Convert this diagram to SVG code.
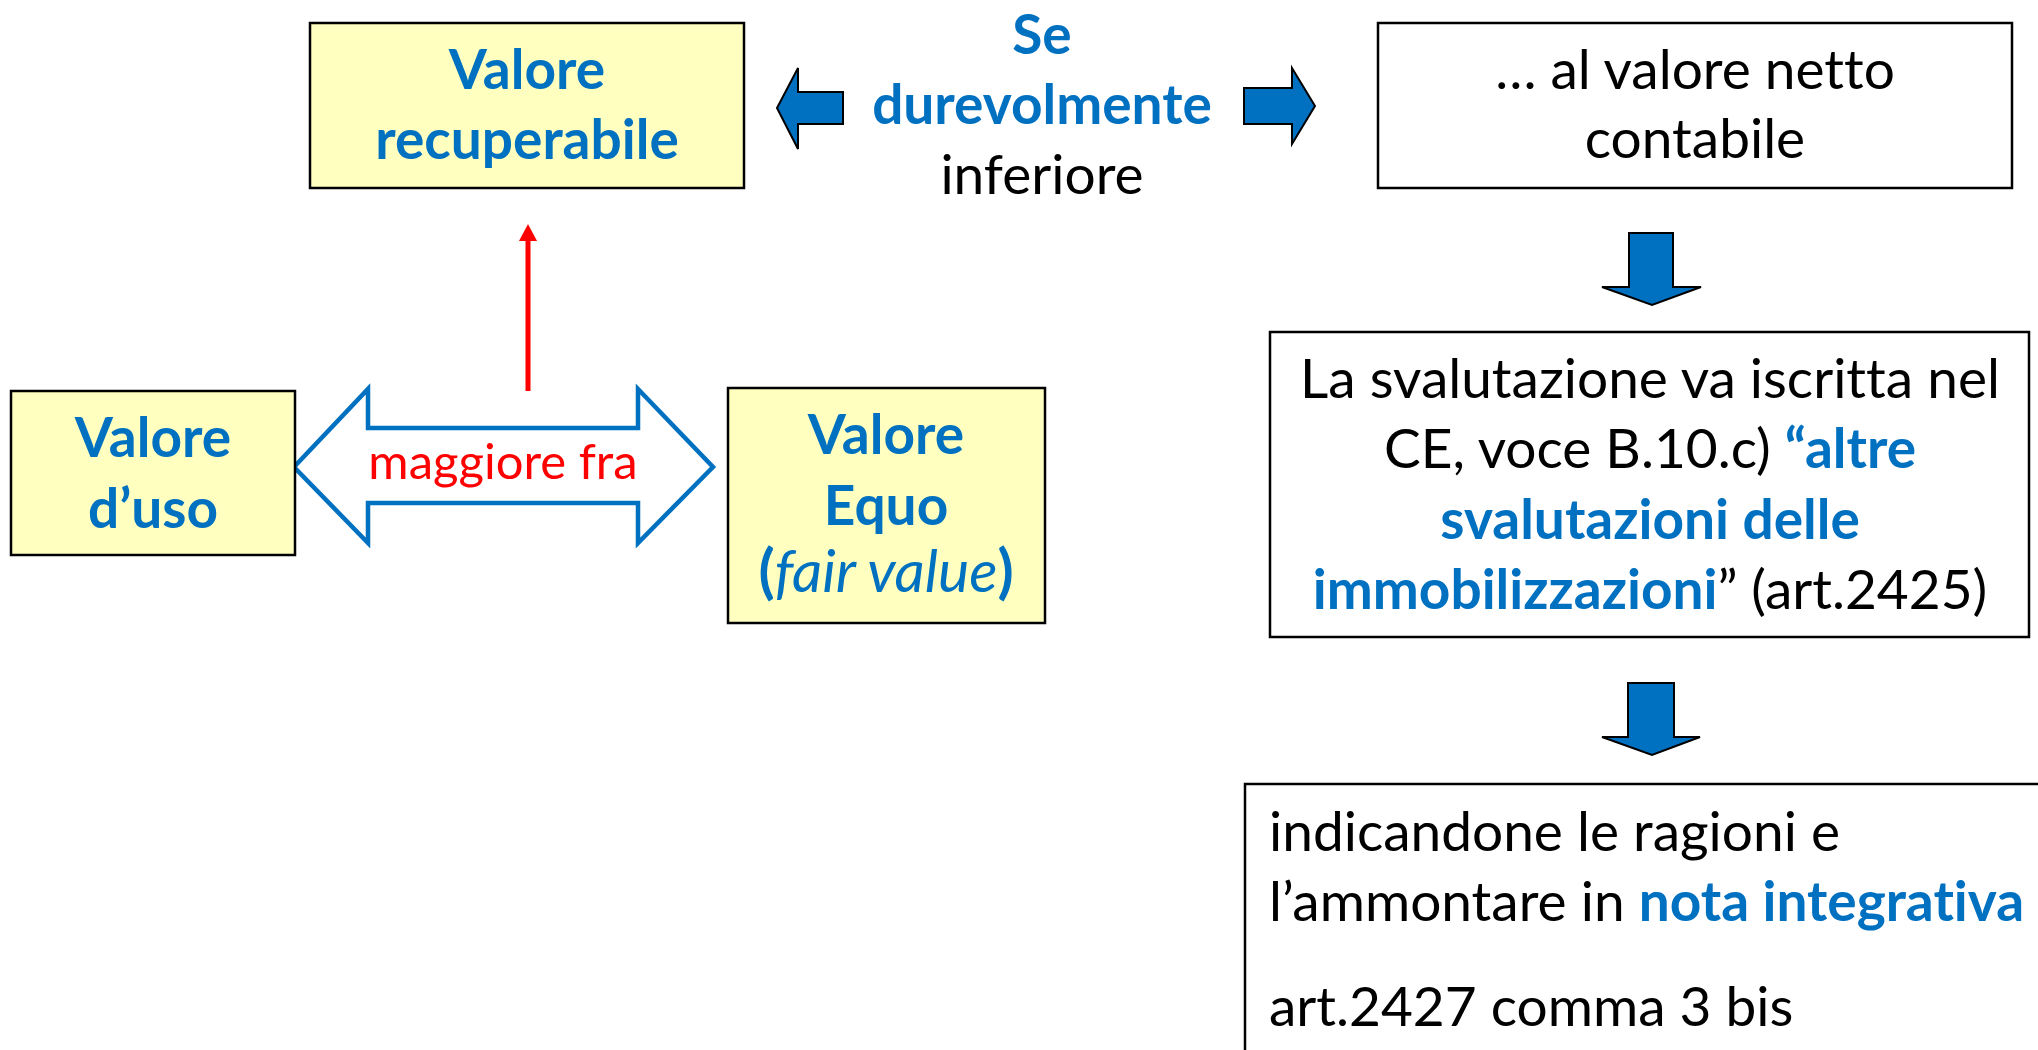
<svg xmlns="http://www.w3.org/2000/svg" width="2038" height="1050" viewBox="0 0 2038 1050">
<style>
  text { font-family: Lato, "Liberation Sans", sans-serif; font-variant-ligatures: none; }
  .box { stroke: #000; stroke-width: 2.5; }
  .yellow { fill: #FFFFC0; }
  .white { fill: #FFFFFF; }
  .bt { font-weight: bold; fill: #0070C0; font-size: 55px; }
  .nt { fill: #000; font-size: 55px; }
  .blue { fill: #0070C0; font-weight: bold; }
  .block { fill: #0070C0; stroke: #000; stroke-width: 2; stroke-linejoin: miter; }
</style>
<rect width="2038" height="1050" fill="#fff"/>

<g id="connectors">
  <path class="block" d="M777,108 L798,68 L798,92 L843,92 L843,124 L798,124 L798,149 Z"/>
  <path class="block" d="M1315,106 L1292,68 L1292,88 L1244,88 L1244,124 L1292,124 L1292,144 Z"/>
  <path class="block" d="M1629,233 L1673,233 L1673,287 L1701,287 L1652,305 L1602,287 L1629,287 Z"/>
  <path class="block" d="M1628,683 L1674,683 L1674,737 L1700,737 L1652,755 L1602,737 L1628,737 Z"/>
  <path d="M294,467 L368,389 L368,428 L638,428 L638,389 L713,467 L638,543 L638,503 L368,503 L368,543 Z" fill="#fff" stroke="#0070C0" stroke-width="4.5" stroke-linejoin="miter"/>
  <line x1="528" y1="391" x2="528" y2="238" stroke="#FF0000" stroke-width="5"/>
  <path d="M519,241 L537,241 L528,224 Z" fill="#FF0000"/>
  <text x="503" y="479" text-anchor="middle" font-size="49" fill="#FF0000">maggiore fra</text>
  <text x="1042" y="54" text-anchor="middle" class="bt">Se</text>
  <text x="1042" y="124" text-anchor="middle" class="bt">durevolmente</text>
  <text x="1042" y="194" text-anchor="middle" class="nt">inferiore</text>
</g>

<g id="valore-recuperabile">
  <rect class="box yellow" x="310" y="23" width="434" height="165"/>
  <text x="527" y="89" text-anchor="middle" class="bt">Valore</text>
  <text x="527" y="159" text-anchor="middle" class="bt">recuperabile</text>
</g>

<g id="valore-netto">
  <rect class="box white" x="1378" y="23" width="634" height="165"/>
  <text x="1695" y="89" text-anchor="middle" class="nt">… al valore netto</text>
  <text x="1695" y="158" text-anchor="middle" class="nt">contabile</text>
</g>

<g id="valore-uso">
  <rect class="box yellow" x="11" y="391" width="284" height="164"/>
  <text x="153" y="457" text-anchor="middle" class="bt">Valore</text>
  <text x="153" y="528" text-anchor="middle" class="bt">d’uso</text>
</g>

<g id="valore-equo">
  <rect class="box yellow" x="728" y="388" width="317" height="235"/>
  <text x="886" y="454" text-anchor="middle" class="bt">Valore</text>
  <text x="886" y="525" text-anchor="middle" class="bt">Equo</text>
  <text x="886" y="592" text-anchor="middle" class="bt" style="font-size:59px">(<tspan font-style="italic" font-weight="normal">fair value</tspan>)</text>
</g>

<g id="svalutazione">
  <rect class="box white" x="1270" y="332" width="759" height="305"/>
  <text x="1650" y="398" text-anchor="middle" class="nt">La svalutazione va iscritta nel</text>
  <text x="1650" y="468" text-anchor="middle" class="nt">CE, voce B.10.c) <tspan class="blue">“altre</tspan></text>
  <text x="1650" y="539" text-anchor="middle" class="bt">svalutazioni delle</text>
  <text x="1650" y="609" text-anchor="middle" class="nt"><tspan class="blue">immobilizzazioni</tspan>” (art.2425)</text>
</g>

<g id="nota-integrativa">
  <rect class="box white" x="1245" y="784" width="820" height="300"/>
  <text x="1269" y="851" class="nt">indicandone le ragioni e</text>
  <text x="1269" y="921" class="nt">l’ammontare in <tspan class="blue">nota integrativa</tspan></text>
  <text x="1269" y="1026" class="nt">art.2427 comma 3 bis</text>
</g>
</svg>
